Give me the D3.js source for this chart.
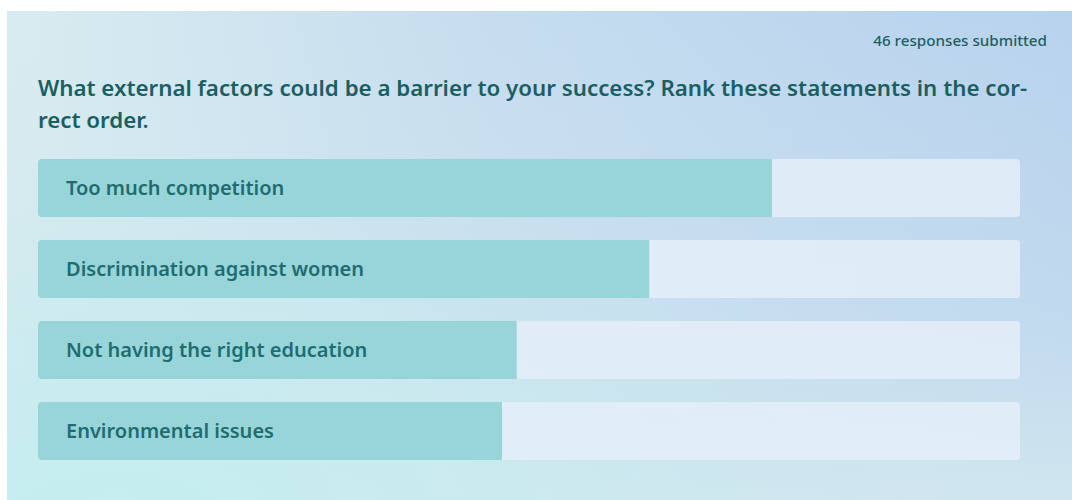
<!DOCTYPE html>
<html>
<head>
<meta charset="utf-8">
<script src="https://cdn.jsdelivr.net/npm/d3@7"></script>
<style>
  html, body { margin: 0; padding: 0; background: #fff; }
  svg { display: block; }
</style>
</head>
<body>
<div id="main"></div>
<script>
// statements, in ranked order
const statements = [
  'Too much competition',
  'Discrimination against women',
  'Not having the right education',
  'Environmental issues'
];
// weighted rank score (max 4)
const scores = [2.99, 2.49, 1.95, 1.89];
const maxScore = 4;
const titleLines = [
  'What external factors could be a barrier to your success? Rank these statements in the cor-',
  'rect order.'
];
const responsesText = '46 responses submitted';

const W = 1072, H = 500;
const svg = d3.select('#main').append('svg').attr('width', W).attr('height', H);
const defs = svg.append('defs');

let bgH = defs.append('linearGradient').attr('id', 'bgH').attr('x1', 0).attr('x2', 1).attr('y1', 0).attr('y2', 0);
bgH.append('stop').attr('offset', '0%').attr('stop-color', '#d8ecf0');
bgH.append('stop').attr('offset', '45%').attr('stop-color', '#c6ddef');
bgH.append('stop').attr('offset', '100%').attr('stop-color', '#b8d2ee');

// cyan wash rising from the bottom left
let bgR = defs.append('radialGradient').attr('id', 'bgR')
  .attr('cx', 0.1).attr('cy', 1.05).attr('r', 0.75).attr('fx', 0.1).attr('fy', 1.05);
bgR.append('stop').attr('offset', '0%').attr('stop-color', '#c4eeee').attr('stop-opacity', 1);
bgR.append('stop').attr('offset', '50%').attr('stop-color', '#c6ecee').attr('stop-opacity', 0.6);
bgR.append('stop').attr('offset', '100%').attr('stop-color', '#c8e8ee').attr('stop-opacity', 0);

let bgV = defs.append('linearGradient').attr('id', 'bgV').attr('x1', 0).attr('x2', 0).attr('y1', 0).attr('y2', 1);
bgV.append('stop').attr('offset', '0%').attr('stop-color', '#d4e9ef').attr('stop-opacity', 0);
bgV.append('stop').attr('offset', '65%').attr('stop-color', '#d4e9ef').attr('stop-opacity', 0.35);
bgV.append('stop').attr('offset', '100%').attr('stop-color', '#d4e9ef').attr('stop-opacity', 0.85);

svg.append('rect').attr('x', 7).attr('y', 11).attr('width', W - 7).attr('height', H - 11).attr('fill', 'url(#bgH)');
svg.append('rect').attr('x', 7).attr('y', 11).attr('width', W - 7).attr('height', H - 11).attr('fill', 'url(#bgV)');
svg.append('rect').attr('x', 7).attr('y', 11).attr('width', W - 7).attr('height', H - 11).attr('fill', 'url(#bgR)');

const font = "'Noto Sans', 'Open Sans', sans-serif";
const ink = '#1b5f63';

svg.append('text')
  .attr('x', 1047).attr('y', 46)
  .attr('text-anchor', 'end')
  .style('font-family', font).style('font-size', '15.2px').style('font-weight', 500)
  .style('fill', ink)
  .text(responsesText);

svg.append('g').selectAll('text').data(titleLines).join('text')
  .attr('x', 38).attr('y', (d, i) => 96 + i * 32)
  .style('font-family', font).style('font-size', '22.3px').style('font-weight', 600)
  .style('fill', ink)
  .text(d => d);

const x = d3.scaleLinear().domain([0, maxScore]).range([38, 1020]);
const y = d3.scaleBand().domain(statements).range([159, 460]).paddingInner(0.284).paddingOuter(0);
const bh = y.bandwidth();

const rows = svg.append('g').selectAll('g.row').data(statements).join('g')
  .classed('row', true)
  .attr('transform', d => `translate(0, ${y(d)})`);

rows.each(function(d, i) {
  defs.append('clipPath').attr('id', 'clip' + i)
    .append('rect').attr('x', x(0)).attr('y', 0)
    .attr('width', x(maxScore) - x(0)).attr('height', bh).attr('rx', 4);
});

rows.append('rect')
  .attr('x', x(0)).attr('y', 0)
  .attr('width', x(maxScore) - x(0)).attr('height', bh).attr('rx', 4)
  .attr('fill', '#e4eef8').attr('fill-opacity', 0.85);

rows.append('rect')
  .attr('clip-path', (d, i) => `url(#clip${i})`)
  .attr('x', x(0)).attr('y', 0)
  .attr('width', (d, i) => x(scores[i]) - x(0)).attr('height', bh)
  .attr('fill', '#98d5d8');

rows.append('text')
  .attr('x', 66).attr('y', bh / 2).attr('dy', '0.35em')
  .style('font-family', font).style('font-size', '20px').style('font-weight', 600)
  .style('fill', '#1e6d72')
  .text(d => d);
</script>
</body>
</html>
